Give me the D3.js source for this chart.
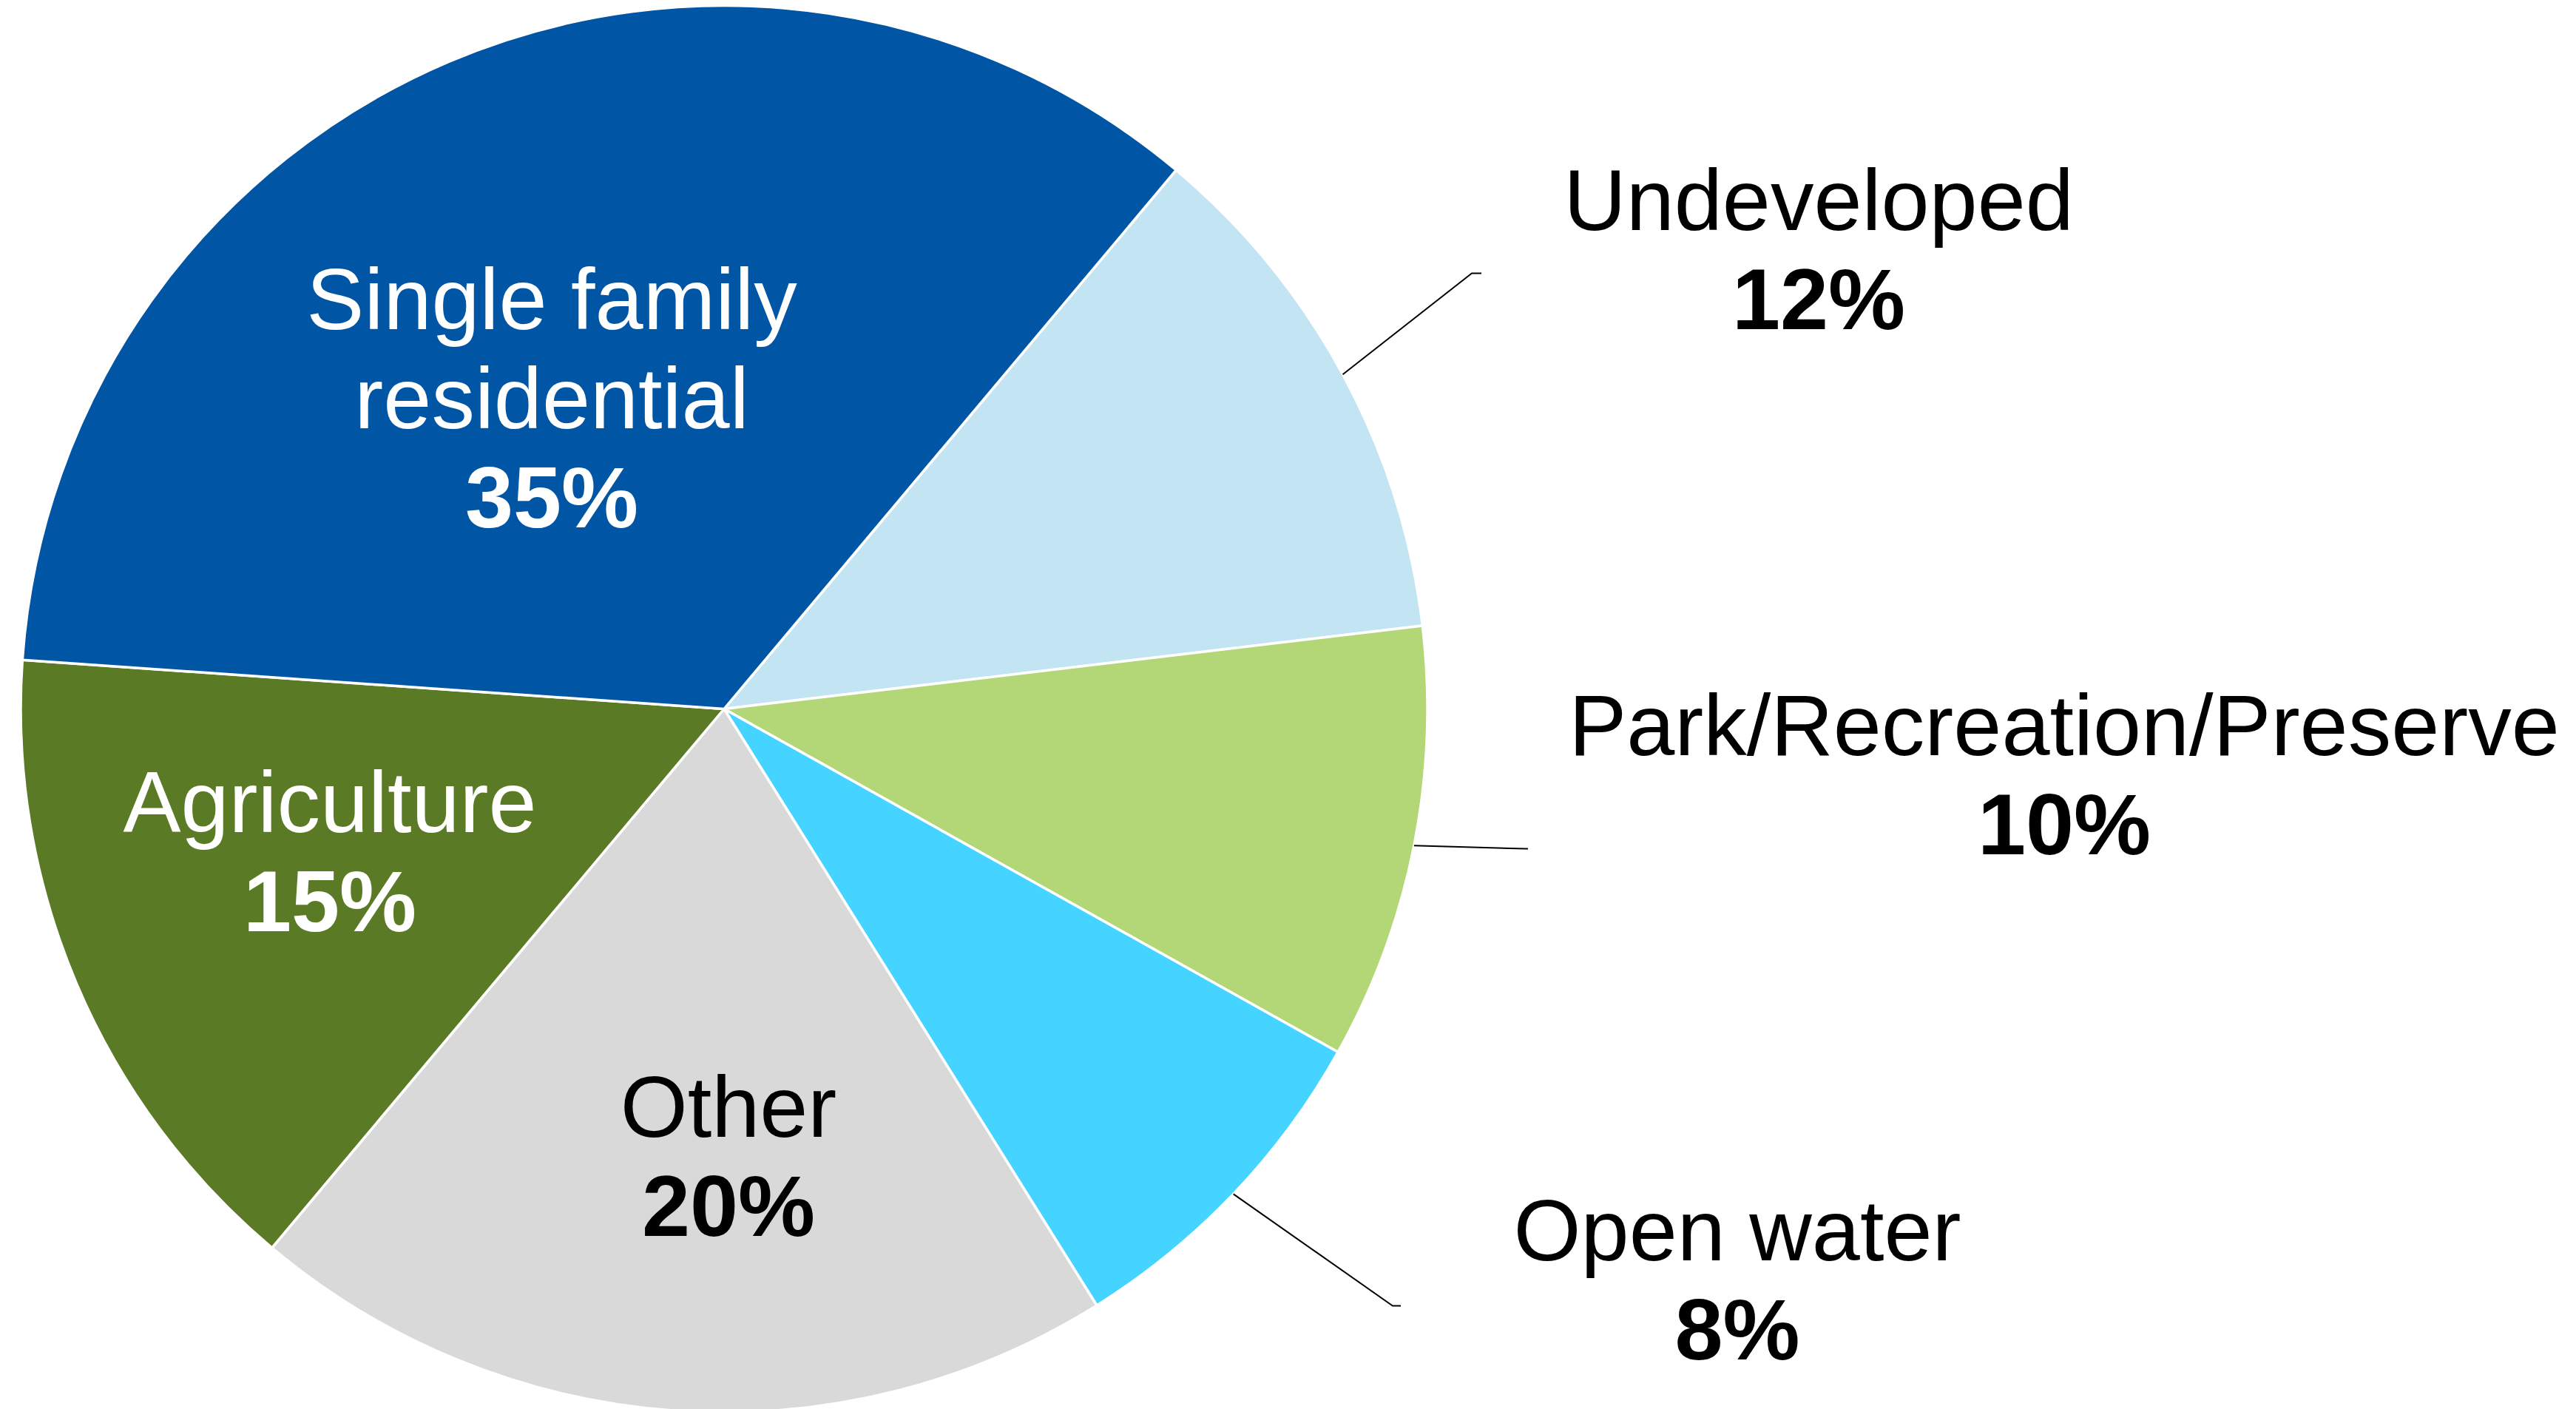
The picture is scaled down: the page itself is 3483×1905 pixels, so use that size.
<!DOCTYPE html>
<html>
<head>
<meta charset="utf-8">
<script src="https://cdn.jsdelivr.net/npm/d3@7"></script>
<style>
  body { margin: 0; background: #fff; }
  text { font-family: "Liberation Sans", Arial, sans-serif; }
</style>
</head>
<body>
<div id="chart"></div>
<script>
// data
const categories = ['Undeveloped', 'Park/Recreation/Preserve', 'Open water', 'Other', 'Agriculture', 'Single family residential'];
const shares = [12, 10, 8, 20, 15, 35];
const labelLines = [['Undeveloped'], ['Park/Recreation/Preserve'], ['Open water'], ['Other'], ['Agriculture'], ['Single family', 'residential']];
const colors = ['#c2e4f3', '#b3d677', '#45d4ff', '#d9d9d9', '#5b7a25', '#0055a4'];
const textColors = ['#000', '#000', '#000', '#000', '#fff', '#fff'];
const outside = [true, true, true, false, false, false];

// label layout, relative to pie centre
const labelPos = {
  'Undeveloped': { x: 1480, y: -648 },
  'Park/Recreation/Preserve': { x: 1812, y: 62 },
  'Open water': { x: 1370, y: 745 },
  'Other': { x: 6, y: 578 },
  'Agriculture': { x: -533, y: 166 },
  'Single family residential': { x: -233, y: -514 }
};
const leaderEnd = {
  'Undeveloped': [[1011, -589], [1024, -589]],
  'Park/Recreation/Preserve': [[1083, 189], [1087, 189]],
  'Open water': [[904, 807], [915, 807]]
};

const width = 3483, height = 1905;
const cx = 979, cy = 958.5, radius = 951;
const fontSize = 117, lineGap = 134;

const svg = d3.select('#chart')
  .append('svg')
  .attr('width', width)
  .attr('height', height);

const g = svg.append('g')
  .attr('transform', `translate(${cx},${cy})`);

const data = categories.map((c, i) => ({
  name: c, value: shares[i], lines: labelLines[i],
  color: colors[i], textColor: textColors[i], outside: outside[i]
}));

const pie = d3.pie()
  .sort(null)
  .value(d => d.value)
  .startAngle(40 * Math.PI / 180)
  .endAngle(400 * Math.PI / 180);

const arc = d3.arc().innerRadius(0).outerRadius(radius);
const arcs = pie(data);

// slices
g.selectAll('path.slice')
  .data(arcs)
  .join('path')
  .attr('class', 'slice')
  .attr('d', arc)
  .attr('fill', d => d.data.color)
  .attr('stroke', '#fff')
  .attr('stroke-width', 3.5)
  .attr('stroke-linejoin', 'round');

// leader lines
const edge = d3.arc().innerRadius(radius).outerRadius(radius);
g.selectAll('path.leader')
  .data(arcs.filter(d => d.data.outside))
  .join('path')
  .attr('class', 'leader')
  .attr('fill', 'none')
  .attr('stroke', '#000')
  .attr('stroke-width', 2)
  .attr('d', d => {
    const start = edge.centroid(d);
    return d3.line()([start, ...leaderEnd[d.data.name]]);
  });

// labels
const labels = g.selectAll('g.label')
  .data(arcs)
  .join('g')
  .attr('class', 'label')
  .attr('transform', d => `translate(${labelPos[d.data.name].x},${labelPos[d.data.name].y})`)
  .attr('fill', d => d.data.textColor)
  .attr('text-anchor', 'middle')
  .style('font-size', fontSize + 'px');

labels.each(function (d) {
  const sel = d3.select(this);
  d.data.lines.forEach((line, i) => {
    sel.append('text').attr('y', i * lineGap).text(line);
  });
  sel.append('text')
    .attr('y', d.data.lines.length * lineGap)
    .attr('font-weight', 'bold')
    .text(d.data.value + '%');
});
</script>
</body>
</html>
